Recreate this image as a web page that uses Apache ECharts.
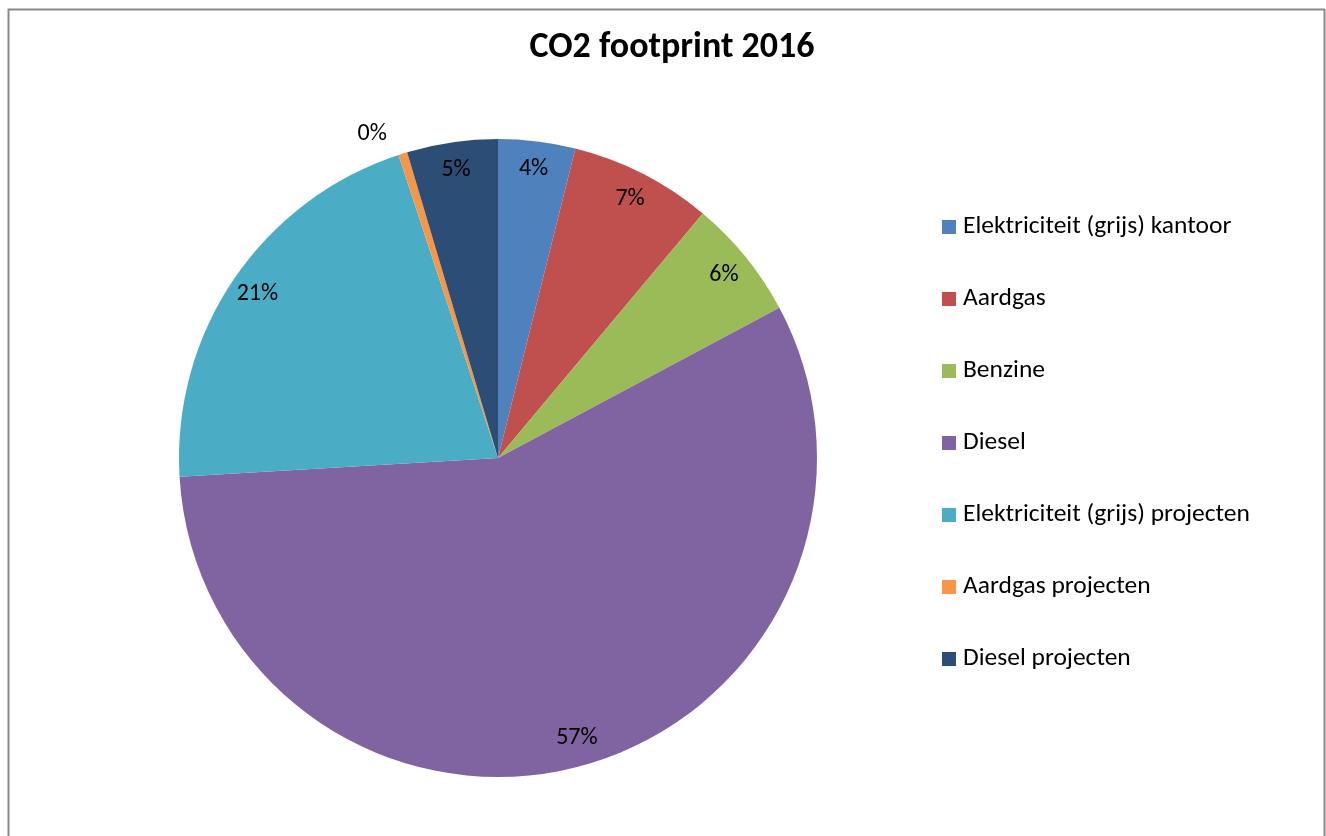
<!DOCTYPE html>
<html>
<head>
<meta charset="utf-8">
<script src="https://cdn.jsdelivr.net/npm/echarts@6/dist/echarts.min.js"></script>
<style>
html,body{margin:0;padding:0;background:#fff;}
#c{width:1326px;height:836px;}
</style>
</head>
<body>
<div id="c"></div>
<script>
const categories = [
  'Elektriciteit (grijs) kantoor',
  'Aardgas',
  'Benzine',
  'Diesel',
  'Elektriciteit (grijs) projecten',
  'Aardgas projecten',
  'Diesel projecten'
];
const values = [3.9, 7.2, 6.1, 56.9, 20.9, 0.45, 4.6];
const colors = ['#4F81BD', '#C0504D', '#9BBB59', '#8064A2', '#4BACC6', '#F79646', '#2C4D75'];
const titleText = 'CO2 footprint 2016';

const FONT = "Carlito, 'Open Sans', 'Noto Sans', sans-serif";
const chart = echarts.init(document.getElementById('c'));
const fmt = p => Math.round(p.percent) + '%';

const realData = categories.map((n, i) => ({
  name: n, value: values[i],
  itemStyle: { color: colors[i] },
  label: { show: i === 5 }
}));
const labelData = categories.map((n, i) => ({
  name: n, value: values[i],
  label: { show: i !== 5 }
}));

chart.setOption({
  animation: false,
  backgroundColor: '#fff',
  graphic: [{
    type: 'rect', silent: true,
    shape: { x: 8.5, y: 9.5, width: 1316, height: 860 },
    style: { fill: 'none', stroke: '#898989', lineWidth: 2 }
  }],
  title: {
    text: titleText, left: 667, top: 25, textAlign: 'center',
    textStyle: { fontFamily: FONT, fontWeight: 'bold', fontSize: 36, color: '#000' }
  },
  legend: {
    orient: 'vertical', left: 937, top: 209,
    icon: 'rect', itemWidth: 14, itemHeight: 14, itemGap: 46,
    data: categories,
    selectedMode: false,
    textStyle: { fontFamily: FONT, fontSize: 25.5, color: '#000', lineHeight: 26, padding: [0, 0, 0, 2] }
  },
  series: [{
    type: 'pie', name: 'main',
    center: [498, 458], radius: [0, 319],
    startAngle: 90, clockwise: true,
    avoidLabelOverlap: false,
    itemStyle: { borderWidth: 0 },
    emphasis: { disabled: true },
    label: { show: false, position: 'outside', formatter: fmt,
      fontFamily: FONT, fontSize: 24, color: '#000' },
    labelLine: { show: false, length: 20, length2: 5 },
    data: realData
  }, {
    type: 'pie', name: 'labels', silent: true,
    center: [498, 458], radius: [0, 576],
    startAngle: 90, clockwise: true,
    avoidLabelOverlap: false,
    itemStyle: { color: 'rgba(0,0,0,0)', borderWidth: 0 },
    emphasis: { disabled: true },
    label: { position: 'inside', formatter: fmt,
      fontFamily: FONT, fontSize: 24, color: '#000' },
    labelLine: { show: false },
    data: labelData
  }]
});
</script>
</body>
</html>
